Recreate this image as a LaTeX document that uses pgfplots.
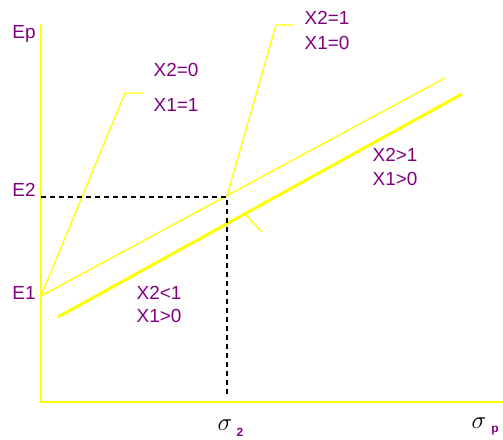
\documentclass[border=0pt]{standalone}
\usepackage{pgfplots}
\pgfplotsset{compat=1.18}
\usepackage{fontspec}
\setmainfont{Liberation Sans}
\definecolor{yel}{RGB}{255,255,0}
\definecolor{pur}{RGB}{128,0,128}
\tikzset{lbl/.style={font=\fontsize{19}{20}\selectfont, text=pur, inner sep=0pt}}
\begin{document}
\begin{tikzpicture}
\begin{axis}[
  scale only axis, width=503bp, height=440bp,
  xmin=0, xmax=503, ymin=0, ymax=440,
  hide axis, clip=false,
]
\path[use as bounding box] (rel axis cs:0,0) rectangle (rel axis cs:1,1);
% axes
\addplot[yel, line width=2.5bp] coordinates {(41,416) (41,38) (503,38)};
% thin line X2=1
\addplot[yel, line width=1.3bp] coordinates {(41,144) (445,362)};
% thick line
\addplot[yel, line width=3bp] coordinates {(58,123) (462,346)};
% leaders
\addplot[yel, line width=1.3bp] coordinates {(41,144) (125,347) (143,347)};
\addplot[yel, line width=1.3bp] coordinates {(227,244) (276,415) (293,415)};
\addplot[yel, line width=1.3bp] coordinates {(245,226) (262,208)};
% dashed guides
\addplot[black, line width=1.2bp, dash pattern=on 5bp off 4bp] coordinates {(41,243) (227,243) (227,45)};
% labels
\node[lbl] at (axis cs:24,406) {Ep};
\node[lbl] at (axis cs:24,250) {E2};
\node[lbl] at (axis cs:24,147) {E1};
\node[lbl] at (axis cs:176,370) {X2=0};
\node[lbl] at (axis cs:176,335) {X1=1};
\node[lbl] at (axis cs:327,422) {X2=1};
\node[lbl] at (axis cs:327,397) {X1=0};
\node[lbl] at (axis cs:395,285) {X2>1};
\node[lbl] at (axis cs:395,261) {X1>0};
\node[lbl] at (axis cs:159,147) {X2<1};
\node[lbl] at (axis cs:159,124) {X1>0};
\node[lbl, text=black, font=\fontsize{24}{24}\selectfont] at (axis cs:225,15) {$\sigma$};
\node[lbl, font=\fontsize{12}{12}\selectfont\bfseries] at (axis cs:240,8) {2};
\node[lbl, text=black, font=\fontsize{24}{24}\selectfont] at (axis cs:479,17) {$\sigma$};
\node[lbl, font=\fontsize{12}{12}\selectfont\bfseries] at (axis cs:495,9) {p};
\end{axis}
\end{tikzpicture}
\end{document}
